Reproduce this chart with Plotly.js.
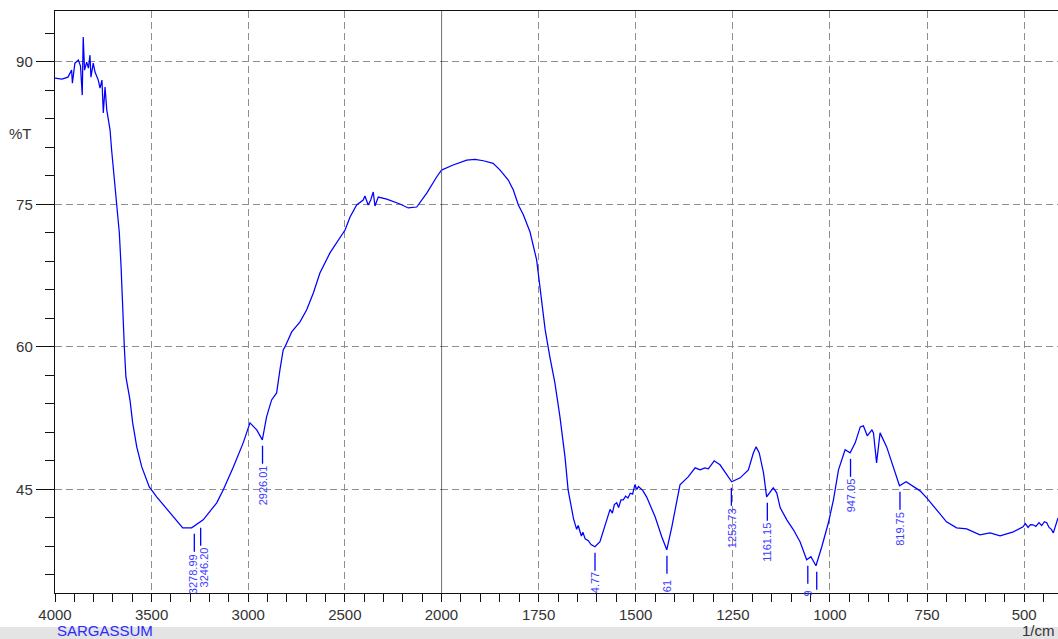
<!DOCTYPE html>
<html>
<head>
<meta charset="utf-8">
<script src="https://cdn.plot.ly/plotly-3.0.1.min.js"></script>
<style>
  html, body { margin: 0; padding: 0; background: #ffffff; overflow: hidden; }
  #chart { width: 1058px; height: 639px; }
</style>
</head>
<body>
<div id="chart"></div>
<script>
// FTIR transmittance spectrum of Sargassum, 4000-400 1/cm.
// High wavenumber half (4000-2000 1/cm)
const highWn = [4000, 3964, 3933, 3914, 3910, 3897, 3879, 3868, 3859, 3854, 3847, 3836, 3827, 3819, 3814,
  3802, 3793, 3776, 3767, 3757, 3750, 3741, 3732, 3724, 3715, 3707, 3698, 3681, 3667, 3658, 3652, 3647,
  3641, 3633, 3612, 3598, 3577, 3551, 3512, 3474, 3405, 3339, 3293, 3233, 3163, 3129, 3077, 3026, 2991,
  2956, 2927, 2905, 2879, 2853, 2836, 2819, 2810, 2775, 2732, 2698, 2663, 2629, 2577, 2525, 2499, 2473,
  2439, 2405, 2396, 2379, 2366, 2353, 2344, 2327, 2283, 2215, 2172, 2128, 2076, 2025, 2000];
const highT = [88.29, 88.18, 88.39, 89.13, 87.76, 89.86, 90.18, 89.55, 86.50, 92.60, 89.13, 89.97, 89.34, 90.70, 88.39,
  89.86, 88.92, 88.08, 87.23, 88.08, 84.61, 87.34, 84.92, 84.08, 82.82, 80.72, 78.93, 75.46, 71.99, 68.41, 64.94, 61.47,
  59.89, 56.84, 54.42, 52.00, 49.48, 47.37, 45.27, 44.22, 42.54, 40.96, 40.96, 41.80, 43.59, 44.96, 47.37, 49.90, 52.00,
  51.27, 50.22, 52.63, 54.42, 55.16, 57.58, 59.68, 60.00, 61.58, 62.63, 63.89, 65.68, 67.78, 69.89, 71.57, 72.30, 73.67,
  74.93, 75.46, 75.88, 74.93, 75.46, 76.30, 74.83, 75.77, 75.56, 75.04, 74.62, 74.72, 76.19, 77.88, 78.61];

// Low wavenumber half (2000-413 1/cm)
const lowWn = [2000, 1970, 1935, 1914, 1892, 1867, 1849, 1828, 1815, 1802, 1789, 1772, 1755, 1746, 1733, 1721,
  1708, 1695, 1682, 1674, 1665, 1660, 1652, 1648, 1640, 1636, 1630, 1622, 1615, 1605, 1592, 1580, 1572, 1566,
  1560, 1555, 1549, 1544, 1538, 1532, 1526, 1520, 1514, 1508, 1502, 1497, 1493, 1489, 1482, 1472, 1450, 1433,
  1420, 1407, 1394, 1386, 1365, 1347, 1334, 1322, 1313, 1298, 1283, 1266, 1253, 1231, 1210, 1197, 1190, 1182,
  1171, 1163, 1146, 1137, 1128, 1111, 1094, 1077, 1060, 1049, 1036, 1021, 1004, 991, 978, 961, 948, 935, 922,
  914, 904, 892, 888, 880, 871, 854, 837, 821, 804, 785, 768, 751, 725, 700, 674, 648, 614, 588, 562, 528,
  503, 497, 490, 484, 477, 470, 462, 455, 448, 442, 436, 430, 425, 420, 413];
const lowT = [78.61, 79.14, 79.66, 79.74, 79.59, 79.32, 78.61, 77.56, 76.51, 74.93, 73.88, 72.09, 69.15, 65.99, 61.79, 58.95,
  56.21, 52.63, 48.43, 44.96, 42.86, 41.90, 40.80, 41.20, 40.10, 40.50, 39.80, 39.60, 39.20, 38.97, 39.50, 41.00, 42.20, 42.90,
  42.50, 43.40, 43.60, 43.10, 43.90, 43.90, 44.30, 44.10, 44.60, 44.50, 45.50, 45.00, 45.30, 45.17, 44.90, 44.22, 42.12, 40.02,
  38.65, 41.07, 43.91, 45.48, 46.32, 47.27, 47.06, 47.27, 47.17, 48.01, 47.59, 46.53, 45.80, 46.22, 47.06, 48.85, 49.48, 48.85,
  46.74, 44.22, 45.17, 44.64, 43.07, 41.80, 40.75, 39.49, 37.60, 37.92, 36.97, 38.97, 41.49, 43.91, 47.06, 49.17, 48.85, 49.90, 51.58,
  51.69, 50.64, 51.27, 50.95, 47.80, 50.95, 49.48, 47.37, 45.38, 45.80, 45.27, 44.85, 44.12, 42.86, 41.59, 40.96, 40.85, 40.23, 40.43, 40.12, 40.54,
  41.07, 41.40, 41.00, 41.30, 41.28, 41.10, 41.50, 41.20, 41.60, 41.49, 41.00, 40.80, 40.43, 41.20, 42.00];

// Picked peaks: position, transmittance at the peak, and the part of the label left visible above the axis
const peakWn = [3278.99, 3246.20, 2926.01, 1604.77, 1419.61, 1253.73, 1161.15, 1057, 1034, 947.05, 819.75];
const peakT = [40.96, 41.60, 50.22, 38.97, 38.65, 45.80, 44.22, 37.60, 36.97, 48.85, 45.38];
const peakText = ['3278.99', '3246.20', '2926.01', '4.77', '.61', '1253.73', '1161.15', '9', '', '947.05', '819.75'];

const xTickHigh = [4000, 3500, 3000, 2500, 2000];
const xTickLow = [1750, 1500, 1250, 1000, 750, 500];
const yTicks = [45, 60, 75, 90];

// ---- styling ----
const BLUE = '#0000ff';
const LABEL_BLUE = '#3c3cff';
const TXT = '#333333';
const FONT = 'Liberation Sans, Arial, sans-serif';
const GRID = '#8e8e8e';
const SPLIT = 0.3853;          // fraction of the plot width taken by the 4000-2000 half
const labelXShift = {0: -2, 1: 3};  // nudges for the two crowded O-H labels
const labelTextGap = {3: 1, 4: 5, 7: 6};

const commonX = {
  showline: true, linecolor: '#111', linewidth: 1.2, mirror: true,
  ticks: 'outside', ticklen: 8, tickwidth: 1, tickcolor: '#111',
  showgrid: true, gridcolor: GRID, gridwidth: 1, griddash: '7px,4px',
  zeroline: false, tickfont: {family: FONT, size: 15, color: TXT},
  anchor: 'y', fixedrange: true
};

const traces = [
  {x: highWn, y: highT, xaxis: 'x', yaxis: 'y', type: 'scatter', mode: 'lines',
   line: {color: BLUE, width: 1.25}, hoverinfo: 'skip'},
  {x: lowWn, y: lowT, xaxis: 'x2', yaxis: 'y', type: 'scatter', mode: 'lines',
   line: {color: BLUE, width: 1.25}, hoverinfo: 'skip'}
];

const shapes = [
  // solid divider where the wavenumber scale changes
  {type: 'line', xref: 'x2', yref: 'paper', x0: 2000, x1: 2000, y0: 0, y1: 1,
   line: {color: '#111', width: 1.2}, layer: 'above'},
  // grey strip along the bottom edge
  {type: 'rect', xref: 'paper', yref: 'paper', x0: -0.06, x1: 1.01, y0: -0.085, y1: -0.0584,
   fillcolor: '#e4e4e4', line: {width: 0}, layer: 'below'}
];

const annotations = [
  {xref: 'paper', yref: 'paper', x: -0.034, y: 0.789, text: '%T', showarrow: false,
   xanchor: 'center', yanchor: 'middle', font: {family: FONT, size: 15, color: TXT}},
  {xref: 'paper', yref: 'paper', x: 0.001, y: -0.064, text: 'SARGASSUM', showarrow: false,
   xanchor: 'left', yanchor: 'middle', borderpad: 0, font: {family: FONT, size: 15, color: '#2a2aff'}},
  {xref: 'paper', yref: 'paper', x: 0.9985, y: -0.064, text: '1/cm', showarrow: false,
   xanchor: 'right', yanchor: 'middle', borderpad: 0, font: {family: FONT, size: 15, color: TXT}}
];

peakWn.forEach((wn, i) => {
  const xr = wn > 2000 ? 'x' : 'x2';
  const gap = 6, len = 18;
  shapes.push({type: 'line', xref: xr, yref: 'y', ysizemode: 'pixel', yanchor: peakT[i],
    x0: wn, x1: wn, y0: -gap, y1: -(gap + len), line: {color: BLUE, width: 1.3}});
  if (peakText[i]) {
    annotations.push({xref: xr, yref: 'y', x: wn, y: peakT[i], text: peakText[i],
      textangle: -90, showarrow: false, xanchor: 'center', yanchor: 'top',
      xshift: labelXShift[i] || 0, yshift: -(gap + len + (labelTextGap[i] || 1)),
      borderpad: 0, font: {family: FONT, size: 11, color: LABEL_BLUE}});
  }
});

const layout = {
  width: 1058, height: 639,
  margin: {l: 55, r: 0, t: 11, b: 46, pad: 0},
  paper_bgcolor: '#ffffff', plot_bgcolor: '#ffffff',
  showlegend: false,
  xaxis: Object.assign({}, commonX, {
    domain: [0, SPLIT], range: [4000, 2000],
    tickmode: 'array', tickvals: xTickHigh,
    minor: {dtick: 100, tick0: 0, ticks: 'outside', ticklen: 8, tickcolor: '#111', showgrid: false}
  }),
  xaxis2: Object.assign({}, commonX, {
    domain: [SPLIT, 1], range: [2000, 413],
    tickmode: 'array', tickvals: xTickLow,
    minor: {dtick: 50, tick0: 0, ticks: 'outside', ticklen: 8, tickcolor: '#111', showgrid: false}
  }),
  yaxis: {
    range: [34.1, 95.35], anchor: 'x',
    tickmode: 'array', tickvals: yTicks,
    showline: true, linecolor: '#111', linewidth: 1.2, mirror: false,
    ticks: 'outside', ticklen: 18, tickwidth: 1, tickcolor: '#111',
    minor: {dtick: 3, tick0: 45, ticks: 'outside', ticklen: 9, tickcolor: '#111', showgrid: false},
    showgrid: true, gridcolor: GRID, gridwidth: 1, griddash: '7px,4px',
    zeroline: false, tickfont: {family: FONT, size: 15, color: TXT}, fixedrange: true
  },
  shapes: shapes,
  annotations: annotations
};

Plotly.newPlot('chart', traces, layout, {displayModeBar: false, staticPlot: true});
</script>
</body>
</html>
